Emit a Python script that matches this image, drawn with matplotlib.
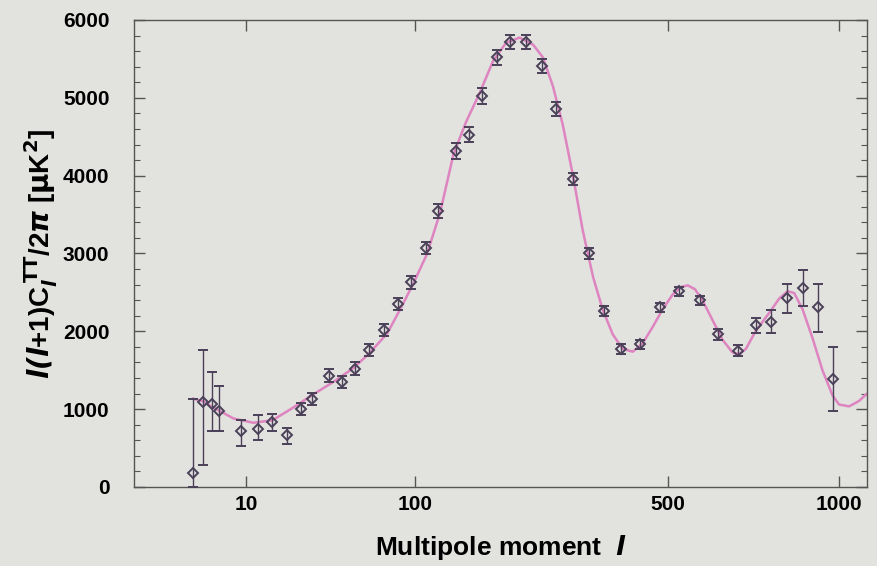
import numpy as np
import matplotlib.pyplot as plt
from matplotlib.ticker import FixedLocator, MultipleLocator

# binned TT points
ell = [2, 3, 4, 5, 9, 13, 17, 22, 27, 32, 40, 47, 55, 64, 75, 86, 97, 110, 122,
       141, 156, 171, 190, 208, 231, 254, 277, 305, 334, 362, 397, 437, 480, 525,
       578, 626, 679, 731, 776, 826, 878, 926, 978]
cl = [180, 1089, 1066, 973, 718, 741, 834, 672, 1000, 1130, 1430, 1350, 1520, 1760,
      2020, 2350, 2630, 3070, 3540, 4320, 4526, 5021, 5520, 5714, 5714, 5404, 4850,
      3957, 3000, 2261, 1775, 1831, 2307, 2515, 2399, 1960, 1752, 2076, 2122, 2423,
      2561, 2307, 1382]
err_lo = [180, 811, 348, 255, 185, 139, 116, 116, 80, 80, 80, 80, 80, 80, 80, 80,
          80, 80, 90, 100, 100, 100, 100, 90, 90, 90, 90, 80, 70, 60, 60, 60, 60, 60,
          60, 70, 70, 100, 150, 185, 230, 320, 400]
err_hi = [950, 671, 417, 324, 139, 186, 102, 92, 80, 80, 80, 80, 80, 80, 80, 80,
          80, 80, 90, 100, 100, 100, 100, 90, 90, 90, 90, 80, 70, 60, 60, 60, 60, 60,
          60, 70, 70, 100, 150, 185, 230, 300, 420]

# model curve
model_l = [2, 3, 4, 5.5, 7.4, 11.7, 17, 23, 32, 42, 54, 64, 77, 87, 98, 111, 124,
           138, 152, 168, 185, 202, 221, 241, 256, 272, 288, 306, 323, 342, 360,
           380, 400, 421, 442, 464, 487, 510, 530, 547, 565, 584, 610, 637, 664, 683,
           702, 731, 771, 802, 828, 849, 876, 909, 943, 978, 1001, 1037, 1073, 1102]
model_cl = [1135, 1100, 1030, 960, 880, 825, 857, 996, 1181, 1344, 1529, 1714, 1969,
            2270, 2595, 2988, 3521, 4272, 4688, 5058, 5474, 5705, 5774, 5682, 5520,
            5150, 4665, 3994, 3301, 2700, 2284, 1960, 1775, 1738, 1845, 2053, 2284,
            2470, 2570, 2590, 2540, 2399, 2145, 1891, 1729, 1706, 1775, 2006, 2238,
            2423, 2515, 2492, 2284, 1914, 1498, 1174, 1059, 1036, 1105, 1197]

x_ticks = [10, 100, 500, 1000]

bg = '#e2e2df'
ink = '#4a4058'
plt.rcParams['font.family'] = ['Liberation Sans', 'DejaVu Sans']

fig = plt.figure(figsize=(8.78, 5.66), dpi=100, facecolor=bg)
ax = fig.add_axes([0.1531, 0.1396, 0.8344, 0.8251], facecolor=bg)

# axis is linear in l^0.4
ax.set_xscale('function', functions=(lambda x: np.sign(x) * np.abs(x) ** 0.4,
                                     lambda u: np.sign(u) * np.abs(u) ** 2.5))

ax.plot(model_l, model_cl, color='#de84c0', lw=1.8, zorder=2)
ax.errorbar(ell, cl, yerr=[err_lo, err_hi], fmt='D', ms=5.5, mfc='none',
            mec=ink, mew=1.4, ecolor=ink, elinewidth=1.0,
            capsize=3.5, capthick=1.2, zorder=3)

ax.set_xlim(0, 1103)
ax.set_ylim(0, 6000)
ax.xaxis.set_major_locator(FixedLocator(x_ticks))
ax.xaxis.set_minor_locator(FixedLocator([]))
ax.set_xticklabels([str(t) for t in x_ticks])
ax.yaxis.set_major_locator(MultipleLocator(1000))
ax.yaxis.set_minor_locator(MultipleLocator(200))

ax.tick_params(which='both', direction='in', top=True, right=True,
               color='#555555', labelsize=15)
ax.tick_params(which='major', length=8, width=1)
ax.tick_params(which='minor', length=4, width=0.8)
ax.tick_params(axis='y', pad=18)
ax.tick_params(axis='x', pad=6)
for lab in ax.get_xticklabels() + ax.get_yticklabels():
    lab.set_fontweight('bold')
for sp in ax.spines.values():
    sp.set_color('#555555')
    sp.set_linewidth(1.0)

ax.set_xlabel(r'Multipole moment  $\mathbfit{l}$', fontsize=19, fontweight='bold')
ax.set_ylabel(r'$\mathbfit{l(l}$+1)C$_{\mathbfit{l}}^{\,\mathbf{TT}}$/2$\mathbfit{\pi}$ [$\mathbf{\mu}$K$^\mathbf{2}$]',
              fontsize=20, fontweight='bold')
ax.xaxis.set_label_coords(0.5, -0.098)
ax.yaxis.set_label_coords(-0.102, 0.5)

fig.savefig('out.png', dpi=100, facecolor=bg)
